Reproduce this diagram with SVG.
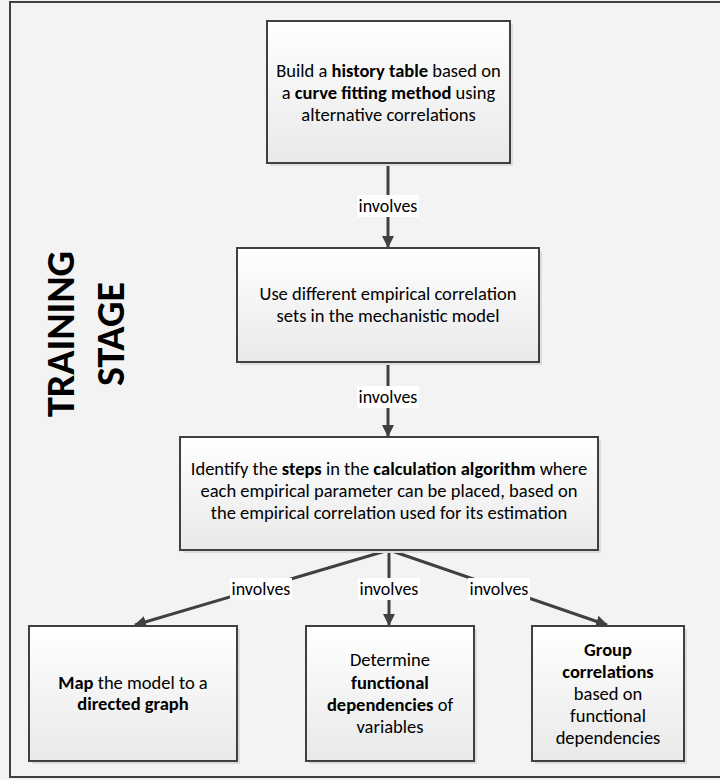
<svg xmlns="http://www.w3.org/2000/svg" width="720" height="780" viewBox="0 0 720 780">
  <defs>
    <linearGradient id="boxFill" x1="0" y1="0" x2="0" y2="1">
      <stop offset="0" stop-color="#ffffff"/>
      <stop offset="1" stop-color="#e9e9e9"/>
    </linearGradient>
    <marker id="arrow" viewBox="0 0 12 12" refX="11" refY="6" markerWidth="12" markerHeight="12" markerUnits="userSpaceOnUse" orient="auto">
      <path d="M0,0 L12,6 L0,12 Z" fill="#404040"/>
    </marker>
    <style>
      .box { fill: url(#boxFill); stroke: #404040; stroke-width: 2; }
      .shadow { fill: #dcdcdc; }
      .txt { font-family: Carlito, Lato, "Open Sans", sans-serif; font-size: 18.5px; fill: #000; text-anchor: middle; }
      .lbl { font-family: Carlito, Lato, "Open Sans", sans-serif; font-size: 18px; fill: #000; text-anchor: middle; }
      .b { font-weight: bold; }
      .edge { stroke: #404040; stroke-width: 3; fill: none; marker-end: url(#arrow); }
      .lblbg { fill: #ffffff; }
      .stage { font-family: Carlito, Lato, "Open Sans", sans-serif; font-size: 40px; font-weight: bold; fill: #000; text-anchor: middle; }
    </style>
  </defs>

  <!-- page background and frame -->
  <rect x="0" y="0" width="720" height="780" fill="#f3f3f3"/>
  <rect x="10" y="2" width="720" height="775" fill="#f3f3f3" stroke="#404040" stroke-width="2"/>

  <!-- stage title -->
  <g id="stage-title">
    <text class="stage" transform="translate(74,334) rotate(-90)">TRAINING</text>
    <text class="stage" transform="translate(124,334) rotate(-90)">STAGE</text>
  </g>

  <!-- connectors -->
  <g id="connectors">
    <line class="edge" x1="388" y1="163" x2="388" y2="247"/>
    <line class="edge" x1="388" y1="362" x2="388" y2="436"/>
    <line class="edge" x1="389" y1="550" x2="135" y2="625"/>
    <line class="edge" x1="389" y1="550" x2="389" y2="625"/>
    <line class="edge" x1="389" y1="550" x2="607" y2="625"/>

    <rect class="lblbg" x="357" y="195" width="62" height="22"/>
    <text class="lbl" x="388" y="212">involves</text>
    <rect class="lblbg" x="357" y="386" width="62" height="22"/>
    <text class="lbl" x="388" y="403">involves</text>
    <rect class="lblbg" x="230" y="578" width="62" height="22"/>
    <text class="lbl" x="261" y="595">involves</text>
    <rect class="lblbg" x="358" y="578" width="62" height="22"/>
    <text class="lbl" x="389" y="595">involves</text>
    <rect class="lblbg" x="468" y="578" width="62" height="22"/>
    <text class="lbl" x="499" y="595">involves</text>
  </g>

  <!-- history table -->
  <g id="history-table">
    <rect class="shadow" x="270" y="24" width="243" height="142"/>
    <rect class="box" x="267" y="21" width="243" height="142"/>
    <text class="txt" x="388.5" y="77">Build a <tspan class="b">history table</tspan> based on</text>
    <text class="txt" x="388.5" y="99">a <tspan class="b">curve fitting method</tspan> using</text>
    <text class="txt" x="388.5" y="121">alternative correlations</text>
  </g>

  <!-- empirical correlation sets -->
  <g id="correlation-sets">
    <rect class="shadow" x="240" y="251" width="302" height="114"/>
    <rect class="box" x="237" y="248" width="302" height="114"/>
    <text class="txt" x="388" y="300">Use different empirical correlation</text>
    <text class="txt" x="388" y="322">sets in the mechanistic model</text>
  </g>

  <!-- calculation algorithm steps -->
  <g id="algorithm-steps">
    <rect class="shadow" x="183" y="440" width="418" height="113"/>
    <rect class="box" x="180" y="437" width="418" height="113"/>
    <text class="txt" x="389" y="475">Identify the <tspan class="b">steps</tspan> in the <tspan class="b">calculation algorithm</tspan> where</text>
    <text class="txt" x="389" y="497">each empirical parameter can be placed, based on</text>
    <text class="txt" x="389" y="519">the empirical correlation used for its estimation</text>
  </g>

  <!-- directed graph -->
  <g id="directed-graph">
    <rect class="shadow" x="32" y="629" width="208" height="135"/>
    <rect class="box" x="29" y="626" width="208" height="135"/>
    <text class="txt" x="133" y="689"><tspan class="b">Map</tspan> the model to a</text>
    <text class="txt b" x="133" y="710">directed graph</text>
  </g>

  <!-- functional dependencies -->
  <g id="functional-dependencies">
    <rect class="shadow" x="309" y="629" width="168" height="135"/>
    <rect class="box" x="306" y="626" width="168" height="135"/>
    <text class="txt" x="390" y="666">Determine</text>
    <text class="txt b" x="390" y="689">functional</text>
    <text class="txt" x="390" y="711"><tspan class="b">dependencies</tspan> of</text>
    <text class="txt" x="390" y="733">variables</text>
  </g>

  <!-- group correlations -->
  <g id="group-correlations">
    <rect class="shadow" x="535" y="629" width="152" height="135"/>
    <rect class="box" x="532" y="626" width="152" height="135"/>
    <text class="txt b" x="608" y="656">Group</text>
    <text class="txt b" x="608" y="678">correlations</text>
    <text class="txt" x="608" y="700">based on</text>
    <text class="txt" x="608" y="722">functional</text>
    <text class="txt" x="608" y="744">dependencies</text>
  </g>
</svg>
